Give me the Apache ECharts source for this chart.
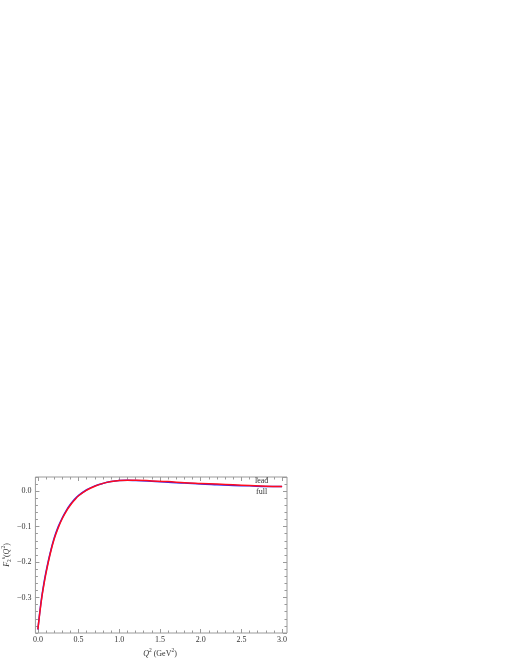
<!DOCTYPE html>
<html>
<head>
<meta charset="utf-8">
<script src="https://cdn.jsdelivr.net/npm/echarts@6/dist/echarts.min.js"></script>
<style>
  html, body { margin: 0; padding: 0; background: #fff; }
  #container { width: 510px; height: 660px; }
</style>
</head>
<body>
<div id="container"></div>
<script>
var dom = document.getElementById("container");
var myChart = echarts.init(dom);

// Q^2 values (GeV^2)
var qsq = [0, 0.025, 0.05, 0.075, 0.1, 0.15, 0.2, 0.25, 0.3, 0.35, 0.4, 0.45, 0.5,
  0.6, 0.7, 0.8, 0.9, 1.0, 1.1, 1.2, 1.4, 1.6, 1.8, 2.0, 2.2, 2.4, 2.6, 2.8, 3.0];
// full result (red)
var fullVals = [-0.390, -0.340, -0.297, -0.262, -0.231, -0.178, -0.135, -0.103, -0.077, -0.056, -0.039, -0.025, -0.013,
  0.003, 0.014, 0.022, 0.027, 0.030, 0.031, 0.031, 0.029, 0.027, 0.024, 0.022, 0.020, 0.018, 0.016, 0.014, 0.013];
// leading term (blue)
var leadVals = [-0.390, -0.338, -0.294, -0.258, -0.227, -0.175, -0.132, -0.100, -0.075, -0.054, -0.037, -0.023, -0.012,
  0.004, 0.015, 0.022, 0.027, 0.030, 0.031, 0.030, 0.028, 0.025, 0.023, 0.020, 0.018, 0.016, 0.015, 0.013, 0.013];
var seriesNames = ['lead', 'full'];

var serif = '"Liberation Serif", "DejaVu Serif", serif';
var frameColor = '#9a9a9a';
var textColor = '#333';

function fmt(v) {
  return v.toFixed(1).replace('-', '\u2212');
}

// frame spans -0.06..3.06 in x, ticks live on an inner grid spanning 0..3
var frameLeft = 33, frameWidth = 254, frameTop = 477, frameHeight = 156;
var innerLeft = frameLeft + frameWidth * 0.06 / 3.12;
var innerWidth = frameWidth * 3 / 3.12;

function tickAxis(extra) {
  return Object.assign({
    type: 'value',
    axisLine: { show: false, onZero: false },
    splitLine: { show: false },
    axisLabel: { show: false },
    axisTick: { show: true, inside: true, length: 4, lineStyle: { color: frameColor, width: 1 } }
  }, extra);
}

var option = {
  animation: false,
  grid: [
    { left: frameLeft, top: frameTop, width: frameWidth, height: frameHeight,
      show: true, borderColor: frameColor, borderWidth: 1, backgroundColor: 'transparent' },
    { left: innerLeft, top: frameTop, width: innerWidth, height: frameHeight }
  ],
  xAxis: [
    { type: 'value', gridIndex: 0, min: -0.06, max: 3.06, show: false, axisLine: { onZero: false } },
    tickAxis({
      gridIndex: 1, position: 'bottom', min: 0, max: 3, interval: 0.5,
      axisLabel: { show: true, formatter: fmt, margin: 3, fontFamily: serif, fontSize: 8, color: textColor },
      name: '{it|Q}{sup|2}{n| (GeV}{sup|2}{n|)}',
      nameLocation: 'middle', nameGap: 15,
      nameTextStyle: {
        rich: {
          it: { fontFamily: serif, fontStyle: 'italic', fontSize: 8, color: textColor, lineHeight: 12 },
          n: { fontFamily: serif, fontSize: 8, color: textColor, lineHeight: 12 },
          sup: { fontFamily: serif, fontSize: 5.5, color: textColor, verticalAlign: 'top', lineHeight: 12 }
        }
      }
    }),
    tickAxis({ gridIndex: 1, position: 'bottom', min: 0, max: 3, interval: 0.1,
      axisTick: { show: true, inside: true, length: 2.5, lineStyle: { color: frameColor } } }),
    tickAxis({ gridIndex: 1, position: 'top', min: 0, max: 3, interval: 0.5 }),
    tickAxis({ gridIndex: 1, position: 'top', min: 0, max: 3, interval: 0.1,
      axisTick: { show: true, inside: true, length: 2.5, lineStyle: { color: frameColor } } })
  ],
  yAxis: [
    tickAxis({
      gridIndex: 0, position: 'left', min: -0.4, max: 0.04, interval: 0.1,
      axisLabel: { show: true, formatter: fmt, margin: 4, fontFamily: serif, fontSize: 8, color: textColor,
        showMinLabel: false, showMaxLabel: false },
      name: '{it|F}{sub|2}{sup|s}{n|(}{it|Q}{sup|2}{n|)}',
      nameLocation: 'middle', nameGap: 19, nameRotate: 90,
      nameTextStyle: {
        rich: {
          it: { fontFamily: serif, fontStyle: 'italic', fontSize: 8, color: textColor, lineHeight: 12 },
          n: { fontFamily: serif, fontSize: 8, color: textColor, lineHeight: 12 },
          sup: { fontFamily: serif, fontSize: 5.5, color: textColor, verticalAlign: 'top', lineHeight: 12 },
          sub: { fontFamily: serif, fontSize: 5.5, color: textColor, verticalAlign: 'bottom', lineHeight: 12 }
        }
      }
    }),
    tickAxis({ gridIndex: 0, position: 'left', min: -0.4, max: 0.04, interval: 0.02,
      axisTick: { show: true, inside: true, length: 2.5, lineStyle: { color: frameColor } } }),
    tickAxis({ gridIndex: 0, position: 'right', min: -0.4, max: 0.04, interval: 0.1 }),
    tickAxis({ gridIndex: 0, position: 'right', min: -0.4, max: 0.04, interval: 0.02,
      axisTick: { show: true, inside: true, length: 2.5, lineStyle: { color: frameColor } } }),
    { type: 'value', gridIndex: 1, min: -0.4, max: 0.04, show: false, axisLine: { onZero: false } }
  ],
  graphic: [
    { type: 'text', left: 255, top: 477, style: { text: seriesNames[0], font: '8px ' + serif, fill: textColor } },
    { type: 'text', left: 256, top: 488, style: { text: seriesNames[1], font: '8px ' + serif, fill: textColor } }
  ],
  series: [
    {
      name: seriesNames[0], type: 'line', xAxisIndex: 1, yAxisIndex: 4,
      showSymbol: false, smooth: 0.35, silent: true,
      lineStyle: { color: '#2a2aff', width: 1.5 },
      data: qsq.map((q, i) => [q, leadVals[i]])
    },
    {
      name: seriesNames[1], type: 'line', xAxisIndex: 1, yAxisIndex: 4,
      showSymbol: false, smooth: 0.35, silent: true,
      lineStyle: { color: '#ff0a1e', width: 1.5 },
      data: qsq.map((q, i) => [q, fullVals[i]])
    }
  ]
};

if (option && typeof option === 'object') {
  myChart.setOption(option);
}
</script>
</body>
</html>
